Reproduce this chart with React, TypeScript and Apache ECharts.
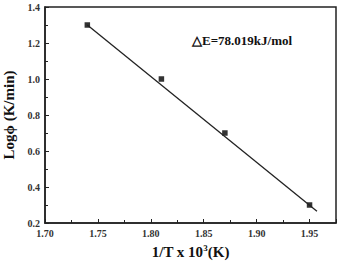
import React, { useEffect, useRef } from "react";
import * as echarts from "echarts";

const xValues = [1.74, 1.81, 1.87, 1.95];
const yValues = [1.3, 1.0, 0.7, 0.3];
const fitX = [1.74, 1.957];
const fitY = [1.3, 0.265];
const xTicks = [1.7, 1.75, 1.8, 1.85, 1.9, 1.95];
const yTicks = [0.2, 0.4, 0.6, 0.8, 1.0, 1.2, 1.4];
const annotation = "△E=78.019kJ/mol";

const FONT = "'Liberation Serif', 'Times New Roman', serif";

export default function App() {
  const ref = useRef<HTMLDivElement>(null);
  useEffect(() => {
    if (!ref.current) return;
    const chart = echarts.init(ref.current, null, { renderer: "svg" });
    chart.setOption({
      animation: false,
      backgroundColor: "#fff",
      grid: {
        left: 45,
        top: 7,
        right: 5,
        bottom: 38,
        containLabel: false,
        outerBoundsMode: "none",
        show: true,
        borderColor: "#222",
        borderWidth: 1.5,
      },
      xAxis: {
        type: "value",
        min: 1.7,
        max: 1.975,
        interval: 0.05,
        axisLine: { lineStyle: { color: "#222", width: 1.5 } },
        axisTick: { inside: true, length: 4, lineStyle: { color: "#222" } },
        minorTick: { show: true, splitNumber: 2, length: 3, lineStyle: { color: "#222" } },
        splitLine: { show: false },
        axisLabel: {
          fontFamily: FONT,
          fontWeight: "bold",
          fontSize: 10,
          color: "#333",
          margin: 5,
          formatter: (v: number) => (xTicks.some((t) => Math.abs(t - v) < 1e-6) ? v.toFixed(2) : ""),
        },
        name: "{a|1/T x 10}{s|3}{a|(K)}",
        nameLocation: "middle",
        nameGap: 20,
        nameTextStyle: {
          rich: {
            a: { fontFamily: FONT, fontWeight: "bold", fontSize: 15, color: "#111" },
            s: { fontFamily: FONT, fontWeight: "bold", fontSize: 9, color: "#111", verticalAlign: "top", padding: [0, 0, 8, 0] },
          },
        },
      },
      yAxis: {
        type: "value",
        min: 0.2,
        max: 1.4,
        interval: 0.2,
        axisLine: { lineStyle: { color: "#222", width: 1.5 } },
        axisTick: { inside: true, length: 4, lineStyle: { color: "#222" } },
        minorTick: { show: true, splitNumber: 2, length: 3, lineStyle: { color: "#222" } },
        splitLine: { show: false },
        axisLabel: {
          fontFamily: FONT,
          fontWeight: "bold",
          fontSize: 10,
          color: "#333",
          margin: 5,
          formatter: (v: number) => (yTicks.some((t) => Math.abs(t - v) < 1e-6) ? v.toFixed(1) : ""),
        },
        name: "Logϕ (K/min)",
        nameLocation: "middle",
        nameGap: 27,
        nameTextStyle: { fontFamily: FONT, fontWeight: "bold", fontSize: 15, color: "#111" },
      },
      series: [
        {
          type: "line",
          data: fitX.map((x, i) => [x, fitY[i]]),
          showSymbol: false,
          lineStyle: { color: "#222", width: 1.3 },
          silent: true,
        },
        {
          type: "scatter",
          data: xValues.map((x, i) => [x, yValues[i]]),
          symbol: "rect",
          symbolSize: 5.5,
          itemStyle: { color: "#000" },
        },
      ],
      graphic: [
        {
          type: "text",
          left: 192,
          top: 34,
          style: {
            text: annotation,
            fontFamily: FONT,
            fontWeight: "bold",
            fontSize: 13,
            fill: "#111",
          },
        },
      ],
    });
    return () => chart.dispose();
  }, []);
  return <div ref={ref} style={{ width: 341, height: 261, position: "absolute", left: 0, top: 0 }} />;
}
